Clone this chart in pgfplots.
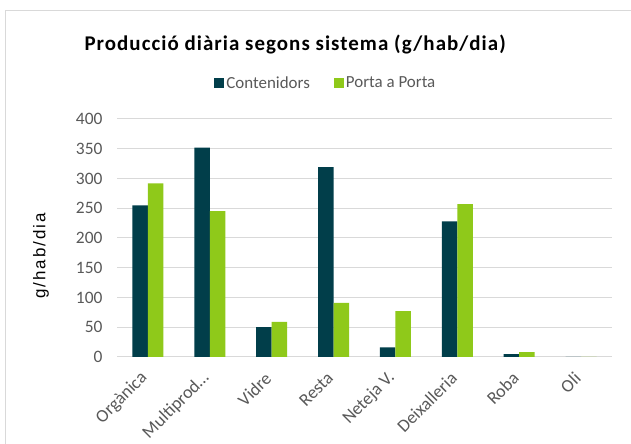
\documentclass[border=0pt]{standalone}
\usepackage{pgfplots}
\pgfplotsset{compat=1.18}
\usepackage{fontspec}
\setmainfont{Carlito}
\newfontfamily\labfont[LetterSpace=12]{Liberation Sans}
\definecolor{cont}{HTML}{013E4A}
\definecolor{pap}{HTML}{8FC91A}
\definecolor{gridc}{HTML}{D9D9D9}
\definecolor{txt}{HTML}{595959}
\begin{document}
\begin{tikzpicture}[x=1bp,y=1bp]
\path[use as bounding box,fill=white] (0,0) rectangle (631,444);
\draw[gridc,line width=1bp] (5.5,-10) rectangle (640,433.5);
\begin{axis}[
  at={(117bp,87bp)}, anchor=south west,
  width=495bp, height=238bp, scale only axis,
  ybar=0pt, bar width=15.5bp,
  xmin=-0.5, xmax=7.5, ymin=0, ymax=400,
  xtick=data,
  xticklabels={Orgànica,Multiprod…,Vidre,Resta,Neteja V.,Deixalleria,Roba,Oli},
  ytick={0,50,...,400},
  axis lines*=left,
  y axis line style={draw=none},
  x axis line style={gridc,line width=1bp},
  major tick length=0pt,
  ymajorgrids, grid style={gridc,line width=1bp},
  tick label style={font=\fontsize{17.5}{20}\selectfont, text=txt},
  /pgf/number format/assume math mode=true,
  yticklabel style={xshift=-11bp},
  xticklabel style={font=\fontsize{18}{20}\selectfont, xshift=-1bp, yshift=-16bp, rotate=45, anchor=east},
  legend style={at={(0.422,1.151)}, anchor=center, draw=none, fill=none,
    legend columns=2, font=\fontsize{17}{20}\selectfont, text=txt,
    /tikz/every even column/.append style={column sep=22bp}},
  legend image code/.code={\fill[#1] (0bp,-5bp) rectangle (10bp,5bp);},
]
\addplot[fill=cont, draw=none] coordinates {(0,255) (1,352) (2,50) (3,319) (4,16) (5,228) (6,5) (7,0)};
\addplot[fill=pap, draw=none] coordinates {(0,292) (1,245) (2,59) (3,91) (4,77) (5,257) (6,8) (7,0)};
\legend{Contenidors,Porta a Porta}
\end{axis}
\node[anchor=west, font=\fontsize{21}{24}\selectfont\bfseries\addfontfeatures{LetterSpace=5}] at (81,399) {Producció diària segons sistema (g/hab/dia)};
\node[rotate=90, font=\fontsize{17}{20}\selectfont\labfont] at (41,188) {g/hab/dia};
\end{tikzpicture}
\end{document}
